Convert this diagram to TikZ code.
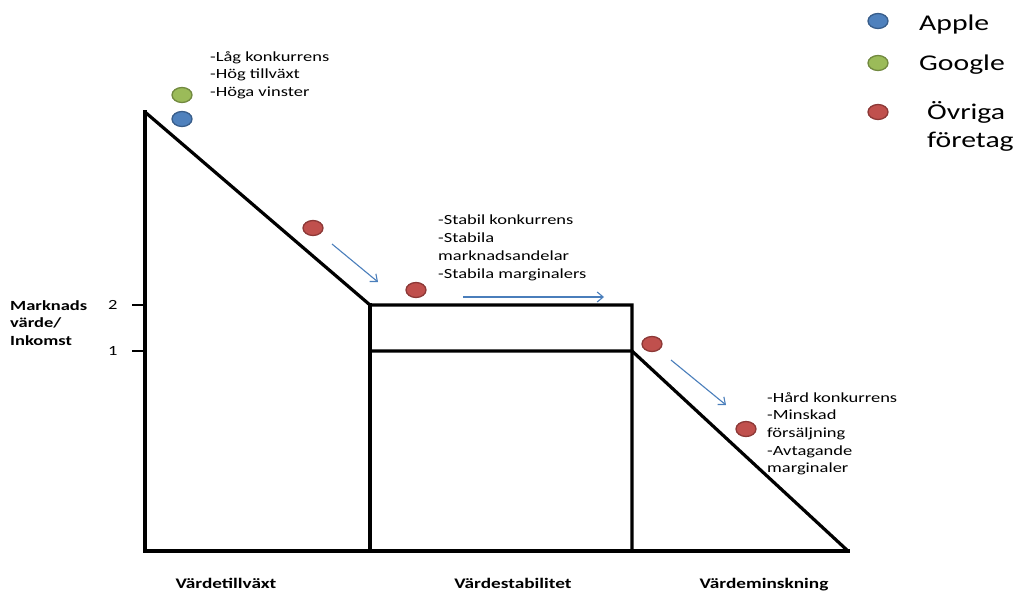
\documentclass[tikz,border=0pt]{standalone}
\usepackage{fontspec}
\setmainfont{Carlito}[FakeStretch=1.32]
\usetikzlibrary{arrows.meta,shapes.geometric}
\definecolor{dotblue}{HTML}{4F81BD}
\definecolor{dotblueb}{HTML}{385D8A}
\definecolor{dotgreen}{HTML}{9BBB59}
\definecolor{dotgreenb}{HTML}{71893F}
\definecolor{dotred}{HTML}{C0504D}
\definecolor{dotredb}{HTML}{8C3836}
\definecolor{arrowblue}{HTML}{4A7EBB}
\tikzset{
  frame/.style={line width=3.2pt, black, line cap=rect, line join=miter},
  dot/.style={ellipse, minimum width=20pt, minimum height=15pt, inner sep=0pt, line width=1.3pt},
  bluedot/.style={dot, fill=dotblue, draw=dotblueb},
  greendot/.style={dot, fill=dotgreen, draw=dotgreenb},
  reddot/.style={dot, fill=dotred, draw=dotredb},
  flow/.style={arrowblue, line width=1.1pt, -{Straight Barb[length=6pt,width=10pt,line width=1.1pt]}},
  note/.style={font=\fontsize{14}{17.7}\selectfont, align=left, anchor=base west, inner sep=0pt},
  legendtxt/.style={font=\fontsize{22.5}{28}\selectfont, align=left, anchor=base west, inner sep=0pt},
  axislbl/.style={font=\bfseries\fontsize{14}{17.5}\selectfont, align=left, anchor=base west, inner sep=0pt},
  ticklbl/.style={font=\fontsize{14}{17}\selectfont, anchor=base west, inner sep=0pt},
  phase/.style={font=\bfseries\fontsize{14.6}{17}\selectfont, anchor=base, inner sep=0pt}
}
\begin{document}
\begin{tikzpicture}[x=1pt,y=-1pt]
\useasboundingbox (0,0) rectangle (1017,592);

% frame coordinates
\coordinate (A) at (145,112);
\coordinate (O) at (145,551);
\coordinate (B) at (370,305);
\coordinate (C) at (632,305);
\coordinate (D) at (370,351);
\coordinate (E) at (632,351);
\coordinate (F) at (370,551);
\coordinate (G) at (632,551);
\coordinate (H) at (848,551);
\coordinate (T2) at (132,305);
\coordinate (T1) at (132,351);
\coordinate (A2) at (145,305);
\coordinate (A1) at (145,351);

\draw[frame] (A) -- (O) -- (H);
\draw[frame, line cap=butt] (A) -- (B) -- (C) -- (G);
\draw[frame] (B) -- (F);
\draw[frame, line cap=butt] (D) -- (E) -- (H);
\draw[line width=2pt] (T2) -- (A2);
\draw[line width=2pt] (T1) -- (A1);

% dots
\node[greendot] (g1) at (182,95) {};
\node[bluedot] (b1) at (182,119) {};
\node[reddot] (r1) at (313,228) {};
\node[reddot] (r2) at (416,290) {};
\node[reddot] (r3) at (652,344) {};
\node[reddot] (r4) at (746,429) {};

% flow arrows
\coordinate (f1s) at (332,244); \coordinate (f1e) at (378,282);
\coordinate (f2s) at (463,297); \coordinate (f2e) at (604,297);
\coordinate (f3s) at (671,360); \coordinate (f3e) at (726,405);
\draw[flow] (f1s) -- (f1e);
\draw[flow] (f2s) -- (f2e);
\draw[flow] (f3s) -- (f3e);

% notes (anchored at the baseline of the last line)
\node[note] (n1) at (210,96.4) {-Låg konkurrens\\-Hög tillväxt\\-Höga vinster};
\node[note] (n2) at (438,278) {-Stabil konkurrens\\-Stabila\\marknadsandelar\\-Stabila marginalers};
\node[note] (n3) at (767,472.8) {-Hård konkurrens\\-Minskad\\försäljning\\-Avtagande\\marginaler};

% axis labels
\node[axislbl] (ax) at (10,345) {Marknads\\värde/\\Inkomst};
\node[ticklbl] (l2) at (108,309) {2};
\node[ticklbl] (l1) at (108,355) {1};

% phase labels
\node[phase] (p1) at (226,588) {Värdetillväxt};
\node[phase] (p2) at (513,588) {Värdestabilitet};
\node[phase] (p3) at (764,588) {Värdeminskning};

% legend
\node[bluedot] (lb) at (878,21) {};
\node[greendot] (lg) at (878,63) {};
\node[reddot] (lr) at (878,112) {};
\node[legendtxt] (tb) at (919,30) {Apple};
\node[legendtxt] (tg) at (919,70) {Google};
\node[legendtxt] (tr) at (927,147) {Övriga\\företag};
\end{tikzpicture}
\end{document}
